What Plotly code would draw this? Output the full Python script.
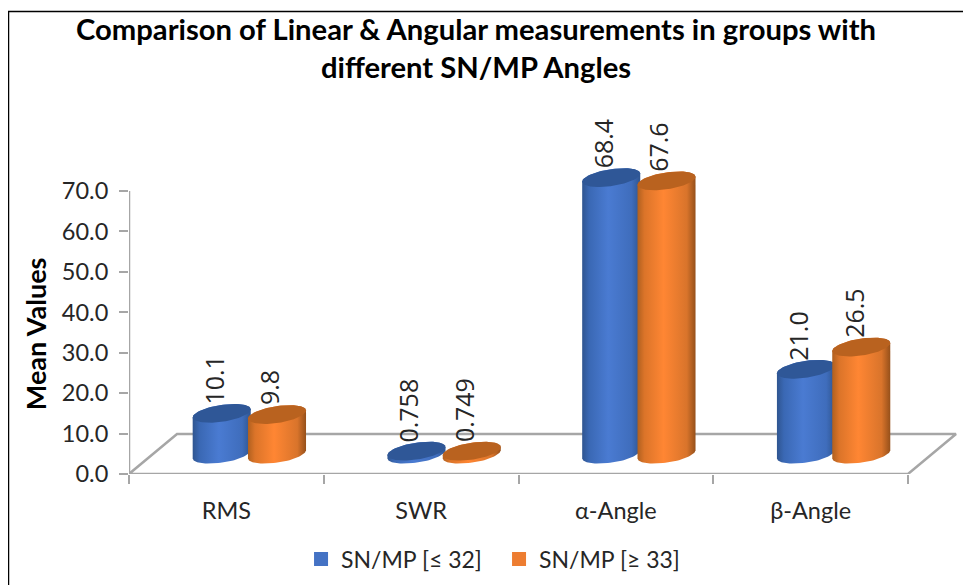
import numpy as np
import plotly.graph_objects as go

categories = ["RMS", "SWR", "α-Angle", "β-Angle"]
series_names = ["SN/MP [≤ 32]", "SN/MP [≥ 33]"]
low_values = [10.1, 0.758, 68.4, 21.0]
high_values = [9.8, 0.749, 67.6, 26.5]
low_labels = ["10.1", "0.758", "68.4", "21.0"]
high_labels = ["9.8", "0.749", "67.6", "26.5"]
y_ticks = [0, 10, 20, 30, 40, 50, 60, 70]

FONT = "Lato"
GRAY = "#A6A6A6"
TEXT = "#262626"

# pseudo 3D geometry, in axis units
DEPTH_X = 0.2465
DEPTH_Y = 9.9
BASE_Y = 4.9
HALF_W = 0.149
CAP_B = 2.1
CAP_TILT = 1.0
GROUP_SHIFT = 0.118
BAR_SHIFT = 0.142

# the page keeps an 8px body margin, so the figure is 8px smaller than the window
FIG_W = 963
FIG_H = 577
PLOT_L = 121
PLOT_W = 828
PLOT_T = 122
PLOT_H = 344


def ellipse(cx, cy, t):
    return cx + HALF_W * np.cos(t), cy + CAP_B * np.sin(t) + CAP_TILT * np.cos(t)


def add_cylinder(fig, cx, value, side_scale, cap_color, group):
    top = BASE_Y + value
    low_x, low_y = ellipse(cx, BASE_Y, np.linspace(np.pi, 2 * np.pi, 40))
    up_x, up_y = ellipse(cx, top, np.linspace(0, np.pi, 40))
    fig.add_trace(
        go.Scatter(
            x=np.concatenate([low_x, up_x]),
            y=np.concatenate([low_y, up_y]),
            mode="lines",
            line=dict(width=0),
            fill="toself",
            fillgradient=dict(type="horizontal", colorscale=side_scale),
            hoverinfo="skip",
            showlegend=False,
            legendgroup=group,
        )
    )
    cap_x, cap_y = ellipse(cx, top, np.linspace(0, 2 * np.pi, 80))
    fig.add_trace(
        go.Scatter(
            x=cap_x,
            y=cap_y,
            mode="lines",
            line=dict(width=0),
            fill="toself",
            fillcolor=cap_color,
            hoverinfo="skip",
            showlegend=False,
            legendgroup=group,
        )
    )


blue_scale = [[0, "#2F5590"], [0.12, "#3A68B4"], [0.45, "#4A7BD2"], [0.85, "#3F6DBC"], [1, "#2F5590"]]
orange_scale = [[0, "#B0601F"], [0.12, "#DB7429"], [0.45, "#FF8633"], [0.85, "#D9742B"], [1, "#96501A"]]

fig = go.Figure()

# floor of the 3D box
fig.add_trace(
    go.Scatter(
        x=[-0.5, 3.5, 3.5 + DEPTH_X, -0.5 + DEPTH_X, -0.5],
        y=[0, 0, DEPTH_Y, DEPTH_Y, 0],
        mode="lines",
        line=dict(color=GRAY, width=2.5),
        hoverinfo="skip",
        showlegend=False,
        cliponaxis=False,
    )
)

# y axis line stops at the last tick, the range goes further for the labels
fig.add_trace(
    go.Scatter(
        x=[-0.5, -0.5],
        y=[y_ticks[0], y_ticks[-1]],
        mode="lines",
        line=dict(color=GRAY, width=2.5),
        hoverinfo="skip",
        showlegend=False,
        cliponaxis=False,
    )
)

annotations = [
    dict(
        x=0,
        xref="paper",
        xshift=-112,
        y=34.7,
        yref="y",
        text="Mean Values",
        textangle=-90,
        showarrow=False,
        font=dict(family=FONT, size=27, color="#000000", weight="bold"),
    )
]
for i in range(len(categories)):
    add_cylinder(fig, i + GROUP_SHIFT - BAR_SHIFT, low_values[i], blue_scale, "#2F5797", "low")
    add_cylinder(fig, i + GROUP_SHIFT + BAR_SHIFT, high_values[i], orange_scale, "#B9621F", "high")
    for shift, value, label in [(-BAR_SHIFT, low_values[i], low_labels[i]), (BAR_SHIFT, high_values[i], high_labels[i])]:
        annotations.append(
            dict(
                x=i + GROUP_SHIFT + shift,
                y=BASE_Y + value,
                text=label,
                textangle=-90,
                showarrow=False,
                xanchor="center",
                yanchor="bottom",
                xshift=-8,
                yshift=7,
                font=dict(family="Open Sans", size=25, color=TEXT),
            )
        )

# legend entries
for name, color, group in [(series_names[0], "#4472C4", "low"), (series_names[1], "#ED7D31", "high")]:
    fig.add_trace(
        go.Scatter(
            x=[None],
            y=[None],
            mode="markers",
            marker=dict(symbol="square", size=14, color=color),
            name=name,
            legendgroup=group,
        )
    )

fig.update_layout(
    title=dict(
        text="Comparison of Linear & Angular measurements in groups with<br>different SN/MP Angles",
        x=0.486,
        xanchor="center",
        y=0.9437,
        yanchor="top",
        font=dict(family=FONT, size=29.2, color="#000000", weight="bold"),
    ),
    width=FIG_W,
    height=FIG_H,
    margin=dict(l=PLOT_L, r=FIG_W - PLOT_L - PLOT_W, t=PLOT_T, b=FIG_H - PLOT_T - PLOT_H),
    paper_bgcolor="white",
    plot_bgcolor="white",
    font=dict(family=FONT, color=TEXT),
    xaxis=dict(
        range=[-0.5, 3.7516],
        tickmode="array",
        tickvals=[0, 1, 2, 3],
        ticktext=categories,
        ticks="outside",
        ticklen=16,
        tickcolor="rgba(0,0,0,0)",
        tickfont=dict(size=23.5),
        showgrid=False,
        zeroline=False,
        showline=False,
        minor=dict(
            tickmode="array",
            tickvals=[-0.5, 0.5, 1.5, 2.5, 3.5],
            ticks="outside",
            ticklen=9,
            tickwidth=2,
            tickcolor=GRAY,
            showgrid=False,
        ),
    ),
    yaxis=dict(
        range=[0, 85.08],
        tickmode="array",
        tickvals=y_ticks,
        tickformat=".1f",
        ticks="outside",
        ticklen=9,
        tickwidth=2,
        tickcolor=GRAY,
        showline=False,
        showgrid=False,
        zeroline=False,
        tickfont=dict(size=23.5),
        ticklabelstandoff=6,
    ),
    legend=dict(
        orientation="h",
        xref="container",
        yref="container",
        x=0.3043,
        xanchor="left",
        y=0.045,
        yanchor="middle",
        font=dict(size=23, color=TEXT),
        entrywidth=153,
        itemclick=False,
        itemdoubleclick=False,
    ),
    annotations=annotations,
    shapes=[
        # chart frame, its bottom edge is cut off by the picture
        dict(
            type="rect",
            xref="paper",
            yref="paper",
            x0=(0.5 - PLOT_L) / PLOT_W,
            x1=(959 - PLOT_L) / PLOT_W,
            y0=-0.4,
            y1=(PLOT_T + PLOT_H - 3.5) / PLOT_H,
            line=dict(color="#000000", width=1.5),
            fillcolor="rgba(0,0,0,0)",
        )
    ],
)

fig.write_html("out.html")
